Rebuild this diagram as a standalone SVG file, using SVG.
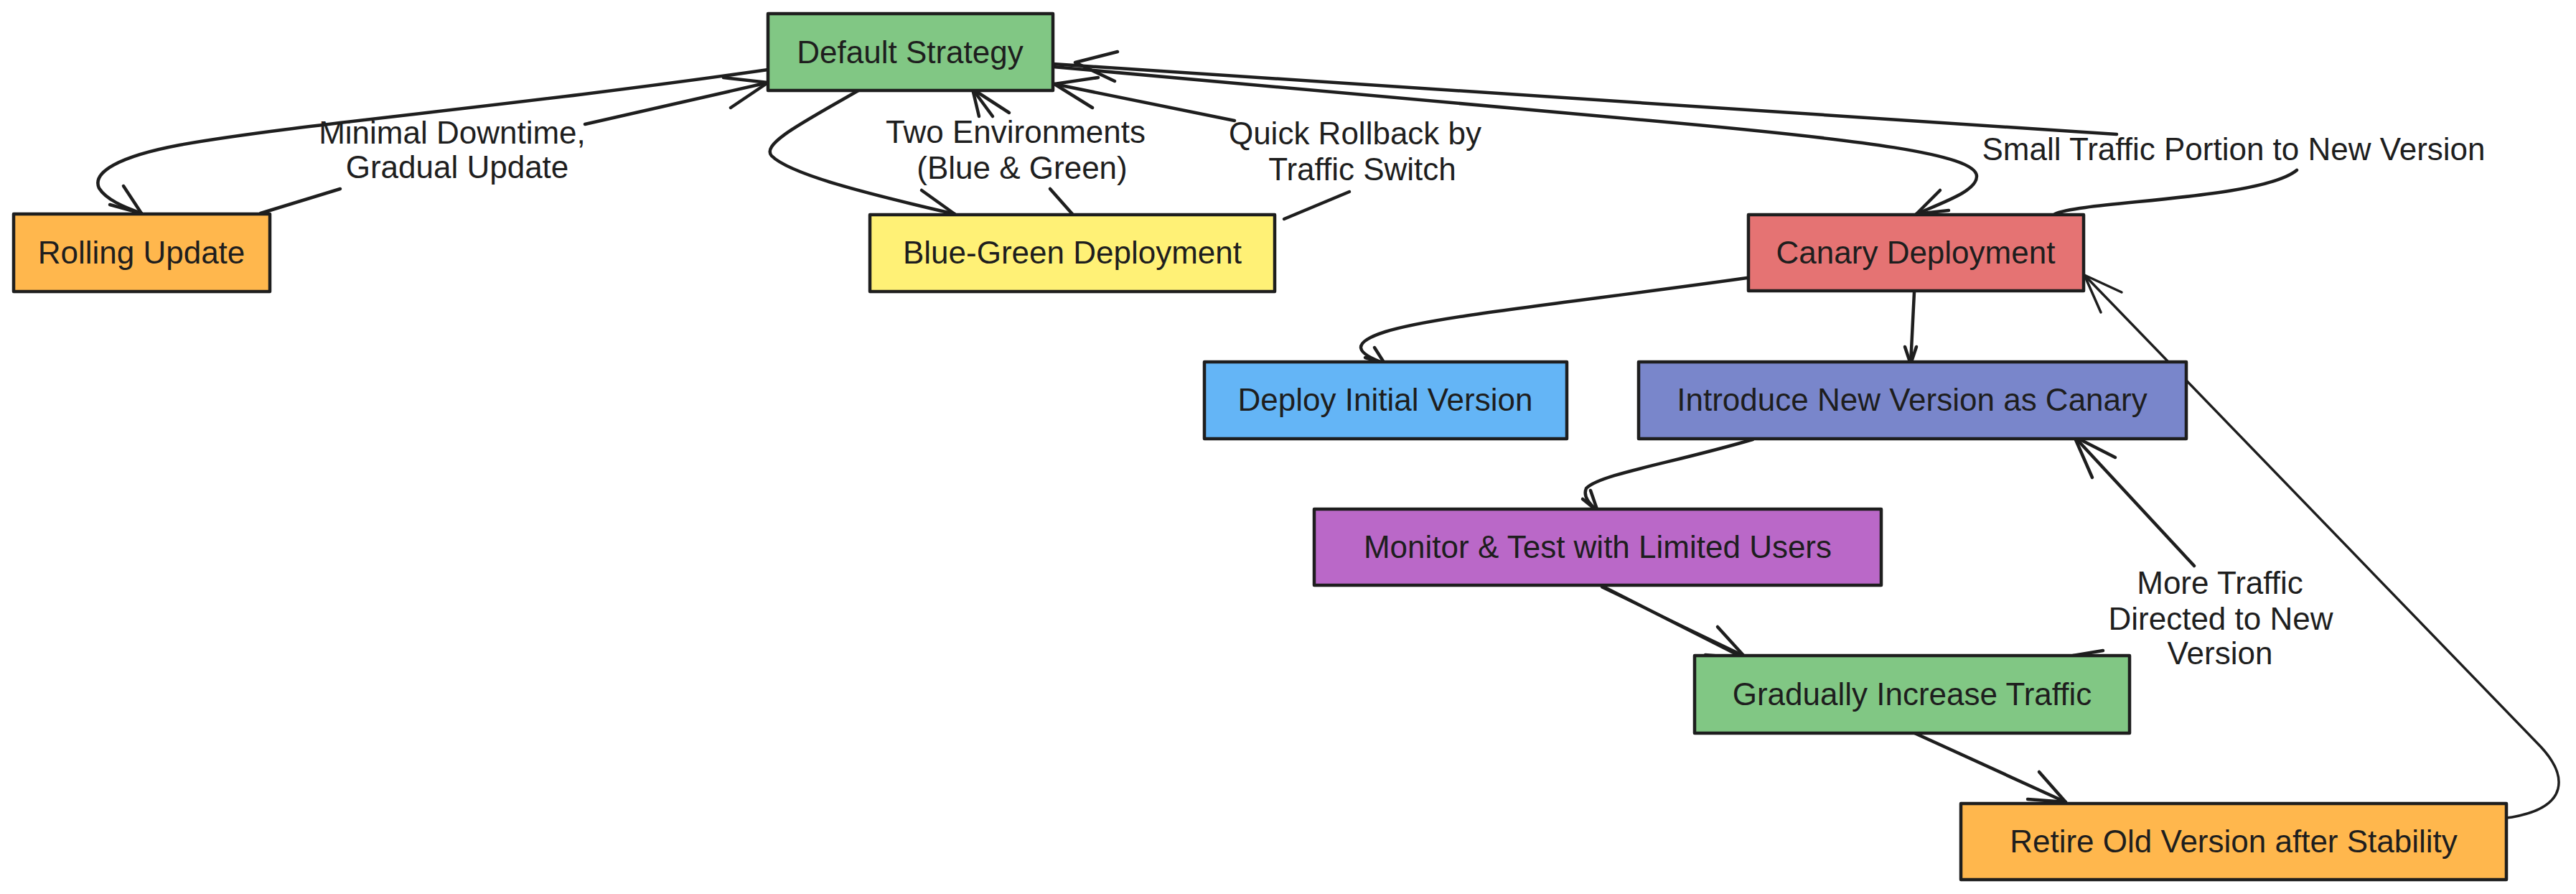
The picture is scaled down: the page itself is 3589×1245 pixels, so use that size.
<svg xmlns="http://www.w3.org/2000/svg" width="3589" height="1245" viewBox="0 0 3589 1245">
<style>
.node rect{stroke:#1e1e1e;stroke-width:4.5;stroke-linejoin:round}
text{font-family:"Liberation Sans",Arial,sans-serif;font-size:44px;fill:#1e1e1e;text-anchor:middle}
.c path{fill:none;stroke:#1e1e1e;stroke-width:4.5;stroke-linecap:round;stroke-linejoin:round}
.c path.thin{stroke-width:3.5}
</style>
<rect x="0" y="0" width="3589" height="1245" fill="#ffffff"/>
<g id="connectors" class="c">
  <g id="e-default-rolling">
    <path d="M1070,97 C700,150 420,172 250,202 C165,218 128,240 138,262 C148,278 172,288 197,297"/>
    <path d="M153,285 L197,297 L172,259"/>
  </g>
  <g id="e-rolling-default">
    <path d="M363,297 L474,263"/>
    <path d="M815,173 L1070,115"/>
    <path d="M1008,108 L1070,115 L1018,150"/>
  </g>
  <g id="e-default-bluegreen">
    <path d="M1196,126 C1120,170 1060,200 1075,217 C1100,242 1200,268 1330,298"/>
    <path d="M1284,265 L1330,298 L1274,305"/>
  </g>
  <g id="e-bluegreen-default-1">
    <path d="M1494,298 L1463,263"/>
    <path d="M1383,162 L1355,124"/>
    <path d="M1364,162 L1355,124 L1406,157"/>
  </g>
  <g id="e-bluegreen-default-2">
    <path d="M1789,305 L1880,267"/>
    <path d="M1720,168 L1469,117"/>
    <path d="M1530,108 L1469,117 L1522,150"/>
  </g>
  <g id="e-default-canary">
    <path d="M1467,93 L2300,168 C2600,195 2752,215 2754,245 C2755,265 2712,280 2670,298"/>
    <path d="M2703,265 L2670,298 L2715,293"/>
  </g>
  <g id="e-canary-default">
    <path d="M1467,89 L2949,187"/>
    <path d="M3200,237 C3150,278 2900,280 2863,298"/>
    <path d="M1557,72 L1498,87 L1553,113"/>
  </g>
  <g id="e-canary-deploy">
    <path d="M2434,387 C2200,420 2000,440 1930,462 C1880,478 1890,492 1929,506"/>
    <path d="M1902,498 L1929,506 L1915,484"/>
  </g>
  <g id="e-canary-introduce">
    <path d="M2667,407 L2662,507"/>
    <path d="M2654,483 L2662,507 L2670,483"/>
  </g>
  <g id="e-introduce-monitor">
    <path d="M2442,612 C2330,645 2230,660 2210,680 C2205,692 2215,702 2226,712"/>
    <path d="M2205,695 L2226,712 L2216,683"/>
  </g>
  <g id="e-monitor-gradually">
    <path d="M2226,813 L2431,917"/>
    <path class="thin" d="M2232,818 L2434,915"/>
    <path d="M2393,873 L2433,917 L2376,912"/>
  </g>
  <g id="e-gradually-retire">
    <path d="M2661,1018 L2878,1117"/>
    <path d="M2841,1075 L2878,1117 L2825,1113"/>
  </g>
  <g id="e-gradually-introduce">
    <path d="M2888,913 L2930,906"/>
    <path d="M3057,788 L2890,608"/>
    <path d="M2947,637 L2890,608 L2915,665"/>
  </g>
  <g id="e-retire-canary">
    <path class="thin" d="M3336,1119 C3420,1133 3460,1145 3500,1138 C3580,1124 3577,1080 3540,1040 L2904,383"/>
    <path class="thin" d="M2956,407 L2904,383 L2927,435"/>
  </g>
</g>
<g id="edge-labels">
  <text x="630" y="200">Minimal Downtime,</text>
  <text x="637" y="248">Gradual Update</text>
  <text x="1415" y="199">Two Environments</text>
  <text x="1424" y="249">(Blue &amp; Green)</text>
  <text x="1888" y="201">Quick Rollback by</text>
  <text x="1898" y="251">Traffic Switch</text>
  <text x="3112" y="223">Small Traffic Portion to New Version</text>
  <text x="3093" y="827">More Traffic</text>
  <text x="3094" y="877">Directed to New</text>
  <text x="3093" y="925">Version</text>
</g>
<g id="n-default" class="node">
  <rect x="1070" y="19" width="397" height="107" fill="#81c784"/>
  <text x="1268" y="88">Default Strategy</text>
</g>
<g id="n-rolling" class="node">
  <rect x="19" y="298" width="357" height="108" fill="#ffb74d"/>
  <text x="197" y="367">Rolling Update</text>
</g>
<g id="n-bluegreen" class="node">
  <rect x="1212" y="299" width="564" height="107" fill="#fff176"/>
  <text x="1494" y="367">Blue-Green Deployment</text>
</g>
<g id="n-canary" class="node">
  <rect x="2436" y="299" width="467" height="106" fill="#e57373"/>
  <text x="2669" y="367">Canary Deployment</text>
</g>
<g id="n-deploy" class="node">
  <rect x="1678" y="504" width="505" height="107" fill="#64b5f6"/>
  <text x="1930" y="572">Deploy Initial Version</text>
</g>
<g id="n-introduce" class="node">
  <rect x="2283" y="504" width="763" height="107" fill="#7986cb"/>
  <text x="2664" y="572">Introduce New Version as Canary</text>
</g>
<g id="n-monitor" class="node">
  <rect x="1831" y="709" width="790" height="106" fill="#ba68c8"/>
  <text x="2226" y="777">Monitor &amp; Test with Limited Users</text>
</g>
<g id="n-gradually" class="node">
  <rect x="2361" y="913" width="606" height="108" fill="#81c784"/>
  <text x="2664" y="982">Gradually Increase Traffic</text>
</g>
<g id="n-retire" class="node">
  <rect x="2732" y="1119" width="760" height="106" fill="#ffb74d"/>
  <text x="3112" y="1187">Retire Old Version after Stability</text>
</g>
</svg>
